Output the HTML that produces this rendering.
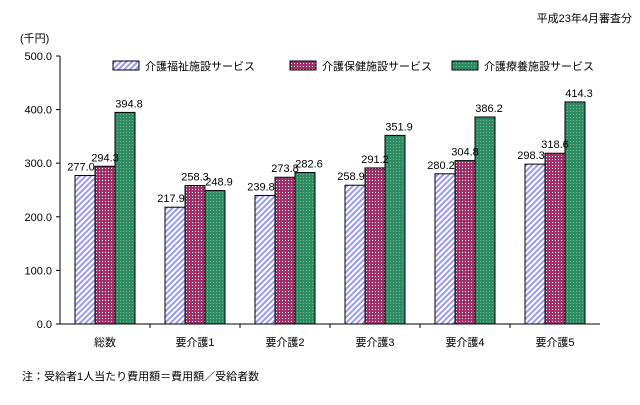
<!DOCTYPE html>
<html><head><meta charset="utf-8"><style>
body{margin:0;background:#fff}
text{font-family:"Liberation Sans","Noto Sans CJK JP",sans-serif;font-size:11px;fill:#000}
</style></head><body>
<svg id="c" width="640" height="400">
<defs>
<pattern id="pb" width="4" height="4" patternUnits="userSpaceOnUse" patternTransform="rotate(45)"><rect width="4" height="4" fill="#fff"/><rect width="2" height="4" fill="#9a9af0"/></pattern>
<pattern id="pr" width="3" height="3" patternUnits="userSpaceOnUse"><rect width="3" height="3" fill="#a0306a"/><rect width="1" height="1" fill="#fff"/></pattern>
<pattern id="pg" width="3" height="3" patternUnits="userSpaceOnUse"><rect width="3" height="3" fill="#2e8a60"/><rect width="1" height="1" fill="#7ab89a"/></pattern>
</defs>
<text x="632" y="22" text-anchor="end">平成23年4月審査分</text>
<text x="20" y="42">(千円)</text>
<text x="22" y="380">注：受給者1人当たり費用額＝費用額／受給者数</text>
<g id="g"></g>
</svg>
<script>
const categories=["総数","要介護1","要介護2","要介護3","要介護4","要介護5"];
const welfare=[277.0,217.9,239.8,258.9,280.2,298.3];
const health=[294.3,258.3,273.8,291.2,304.8,318.6];
const medical=[394.8,248.9,282.6,351.9,386.2,414.3];
const seriesNames=["介護福祉施設サービス","介護保健施設サービス","介護療養施設サービス"];
const yTicks=[0,100,200,300,400,500];
const NS="http://www.w3.org/2000/svg",g=document.getElementById("g");
const x0=60,gw=90,y0=324,ymax=500,ytop=56;
const y=v=>y0-v/ymax*(y0-ytop);
function el(t,a,txt){const e=document.createElementNS(NS,t);for(const k in a)e.setAttribute(k,a[k]);if(txt!=null)e.textContent=txt;g.appendChild(e);return e;}
const ax=el("line",{x1:x0,y1:ytop,x2:x0,y2:y0,stroke:"#000"});


const bx=el("line",{x1:x0,y1:y0,x2:x0+gw*categories.length,y2:y0,stroke:"#000"});


yTicks.forEach(v=>{
 const t=el("line",{x1:x0-4,y1:y(v),x2:x0,y2:y(v),stroke:"#000"});
 
 
 const l=el("text",{x:x0-8,y:y(v)+4,"text-anchor":"end"},v.toFixed(1));
 
 
});
const series=[welfare,health,medical],fills=["url(#pb)","url(#pr)","url(#pg)"];
categories.forEach((c,i)=>{
 const gx=x0+gw*i;
 if(i>0){const t=el("line",{x1:gx,y1:y0,x2:gx,y2:y0+4,stroke:"#000"});
 
 }
 series.forEach((s,j)=>{
  const bxp=gx+15+20*j;
  const r=el("rect",{x:bxp,y:y(s[i]),width:20,height:y0-y(s[i]),fill:fills[j],stroke:"#000","stroke-width":1});
  
  
 });
 const cl=el("text",{x:gx+45,y:346,"text-anchor":"middle"},c);
 
 
});
categories.forEach((c,i)=>{
 const gx=x0+gw*i;
 series.forEach((s,j)=>{
  const bxp=gx+15+20*j;
  const lbl=el("text",{x:bxp+10+(j===0?-4:j===2?4:0),y:y(s[i])-5,"text-anchor":"middle"},s[i].toFixed(1));
  
  
 });
});
const lx=[113,290,452];
seriesNames.forEach((n,j)=>{
 const r=el("rect",{x:lx[j],y:61,width:26,height:9,fill:fills[j],stroke:"#000"});
 
 
 const t=el("text",{x:lx[j]+32,y:70},n);
 
 
});
</script>
</body></html>
